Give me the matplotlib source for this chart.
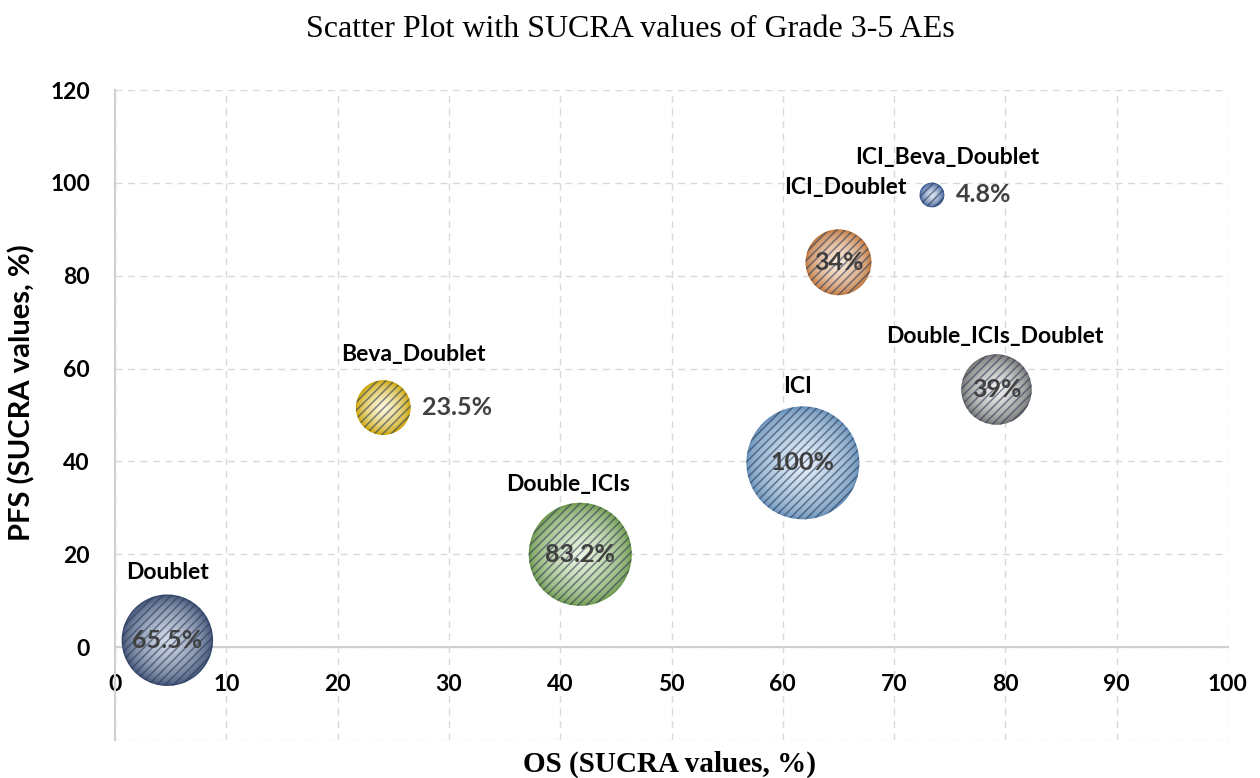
import numpy as np
import matplotlib
matplotlib.use("Agg")
import matplotlib.pyplot as plt
from matplotlib.colors import to_rgb

# data
names = ["Doublet", "Double_ICIs", "ICI", "Beva_Doublet",
         "ICI_Doublet", "ICI_Beva_Doublet", "Double_ICIs_Doublet"]
os_sucra = [4.7, 41.8, 61.8, 24.1, 65.0, 73.4, 79.2]
pfs_sucra = [1.5, 20.0, 39.7, 51.6, 82.9, 97.4, 55.5]
ae_sucra = [65.5, 83.2, 100, 23.5, 34, 4.8, 39]
ae_labels = ["65.5%", "83.2%", "100%", "23.5%", "34%", "4.8%", "39%"]

# styling: rim colour, centre colour, hatch colour
rims = ["#3b4e72", "#6f9a4f", "#6a93bb", "#c9a200", "#c0763c", "#2f528f", "#6e6e6e"]
centres = ["#d4dcea", "#eef7e6", "#e6f0fa", "#fffbe0", "#fdeee2", "#e4ecf8", "#f4f4f4"]
hatches = ["#2c3a55", "#6c9a4c", "#6f93b5", "#dbb21a", "#cc8450", "#3f69b5", "#8a8a8a"]
# name label offsets (pt) from bubble centre; value label placement
name_off = [(0, 49), (-9, 50), (-4, 55), (22, 38), (5, 54), (11, 27), (-1, 38)]
value_right = [False, False, False, True, False, True, False]

plt.rcParams["hatch.linewidth"] = 1.1

fig = plt.figure(figsize=(12.6, 7.78), dpi=100)
ax = fig.add_axes([0.0913, 0.0488, 0.8833, 0.8355])

ax.set_xlim(0, 100)
ax.set_ylim(-20, 120)
ax.set_xticks(range(0, 101, 10))
ax.set_yticks(range(-20, 121, 20))
ax.set_yticklabels([""] + [str(v) for v in range(0, 121, 20)])
ax.grid(True, color="#d9d9d9", linestyle=(0, (5, 4)), linewidth=1.0)
ax.set_axisbelow(True)
for sp in ["top", "right"]:
    ax.spines[sp].set_visible(False)
ax.spines["left"].set_color("#d0d0d0")
ax.spines["left"].set_linewidth(1.5)
ax.spines["bottom"].set_position(("data", 0))
ax.spines["bottom"].set_color("#d0d0d0")
ax.spines["bottom"].set_linewidth(1.5)
ax.tick_params(length=0, labelsize=16.5, pad=18)
ax.tick_params(axis="x", pad=19)
for lab in ax.get_xticklabels() + ax.get_yticklabels():
    lab.set_fontfamily("Lato")
    lab.set_fontweight("bold")

sizes = np.array(ae_sucra) * 66.2

# pseudo 3d shading: concentric layers from rim colour to centre colour
n_layers = 30
for i in range(n_layers):
    f = 1 - i / n_layers
    t = (i / (n_layers - 1)) ** 0.6
    cols = [tuple((1 - t) * np.array(to_rgb(r)) + t * np.array(to_rgb(c)))
            for r, c in zip(rims, centres)]
    ax.scatter(os_sucra, pfs_sucra, s=sizes * f ** 2, c=cols,
               linewidths=0, zorder=3)
# diagonal stripes on top
ax.scatter(os_sucra, pfs_sucra, s=sizes, facecolors="none",
           edgecolors=[to_rgb(h) + (0.6,) for h in hatches],
           linewidths=0, hatch="////", zorder=4)

for i, name in enumerate(names):
    ax.annotate(name, (os_sucra[i], pfs_sucra[i]), xytext=name_off[i],
                textcoords="offset points", ha="center", va="center",
                fontsize=16.5, fontweight="bold", family="Lato", color="black",
                zorder=6)
    if value_right[i]:
        r_pt = np.sqrt(sizes[i]) / 2
        ax.annotate(ae_labels[i], (os_sucra[i], pfs_sucra[i]),
                    xytext=(r_pt + 8, 0), textcoords="offset points",
                    ha="left", va="center", fontsize=18, fontweight="bold",
                    family="Lato", color="#404040", zorder=6)
    else:
        ax.annotate(ae_labels[i], (os_sucra[i], pfs_sucra[i]),
                    xytext=(0, 0), textcoords="offset points",
                    ha="center", va="center", fontsize=18, fontweight="bold",
                    family="Lato", color="#404040", zorder=6)

fig.text(0.5, 0.962, "Scatter Plot with SUCRA values of Grade 3-5 AEs",
         ha="center", va="center", fontsize=23, family="Liberation Serif")
fig.text(0.531, 0.018, "OS (SUCRA values, %)", ha="center", va="center",
         fontsize=21, fontweight="bold", family="Liberation Serif")
fig.text(0.017, 0.495, "PFS (SUCRA values, %)", ha="center", va="center",
         rotation=90, fontsize=21, fontweight="bold", family="Lato")

fig.savefig("out.png", dpi=100)
